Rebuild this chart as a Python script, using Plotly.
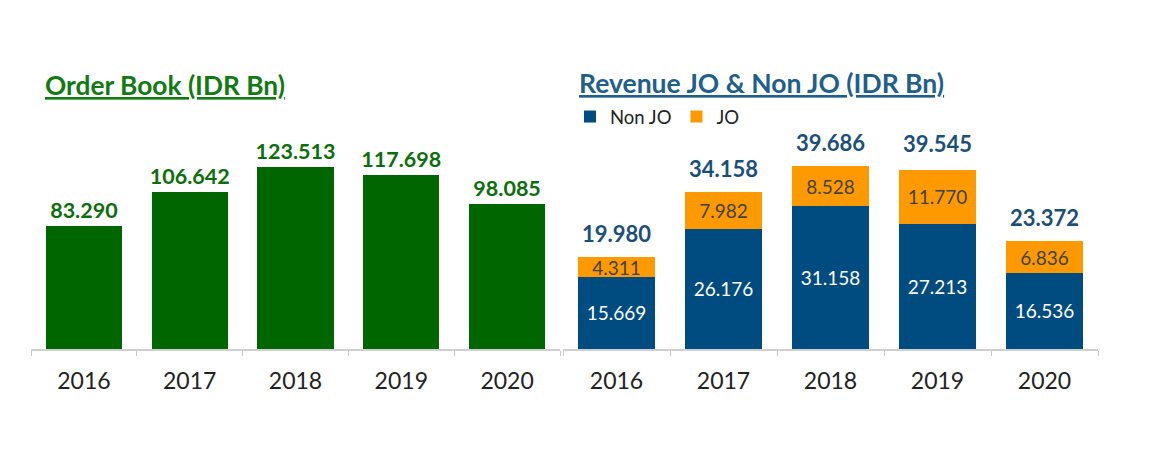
import plotly.graph_objects as go

years = ["2016", "2017", "2018", "2019", "2020"]
order_book = [83290, 106642, 123513, 117698, 98085]
non_jo = [15669, 26176, 31158, 27213, 16536]
jo = [4311, 7982, 8528, 11770, 6836]
rev_total = [19980, 34158, 39686, 39545, 23372]

W, H = 1167, 451
OFF = 8  # page body margin
FONT = "Lato"
GREEN = "#006600"
GREEN_TXT = "#0b6e0b"
BLUE = "#004c80"
BLUE_TXT = "#1b4f7a"
ORANGE = "#ff9900"


def fmt(v):
    return f"{v:,}".replace(",", ".")


def px_x(p):
    return (p - OFF) / W


def px_y(p):
    return (H - (p - OFF)) / H


base_px, top_px = 349, 60
left_scale = 1.475 / 1000   # px per unit
right_scale = 4.6 / 1000

fig = go.Figure()

fig.add_trace(go.Bar(
    x=years, y=order_book, xaxis="x", yaxis="y",
    marker=dict(color=GREEN, line=dict(width=0)),
    texttemplate="%{y:,.0f}", textposition="outside", constraintext="none",
    textfont=dict(family=FONT, size=21.5, color=GREEN_TXT, weight="bold"),
    cliponaxis=False, showlegend=False,
))

fig.add_trace(go.Bar(
    x=years, y=non_jo, xaxis="x2", yaxis="y2", name="Non JO",
    marker=dict(color=BLUE, line=dict(width=0)),
    texttemplate="%{y:,.0f}", textposition="inside", insidetextanchor="middle",
    constraintext="none",
    textfont=dict(family=FONT, size=19, color="white"),
))
fig.add_trace(go.Bar(
    x=years, y=jo, xaxis="x2", yaxis="y2", name="JO",
    marker=dict(color=ORANGE, line=dict(width=0)),
    texttemplate="%{y:,.0f}", textposition="inside", insidetextanchor="middle",
    constraintext="none",
    textfont=dict(family=FONT, size=19, color="#424242"),
))

annotations = []
for i, t in enumerate(rev_total):
    annotations.append(dict(
        x=i, y=t, xref="x2", yref="y2", text=fmt(t), showarrow=False,
        yanchor="bottom", yshift=8,
        font=dict(family=FONT, size=22, color=BLUE_TXT, weight="bold"),
    ))

annotations.append(dict(
    x=px_x(43), y=px_y(85), xref="paper", yref="paper", xanchor="left", yanchor="middle",
    text="<u><b>Order Book (IDR Bn)</b></u>", showarrow=False,
    font=dict(family=FONT, size=26.3, color="#127a12"),
))
annotations.append(dict(
    x=px_x(577), y=px_y(83), xref="paper", yref="paper", xanchor="left", yanchor="middle",
    text="<u><b>Revenue JO &amp; Non JO (IDR Bn)</b></u>", showarrow=False,
    font=dict(family=FONT, size=26.5, color="#1f5f8b"),
))

axis_common = dict(
    type="category", range=[-0.5, len(years) - 0.5], autorange=False,
    categoryorder="array", categoryarray=years,
    showline=True, linecolor="#d0d0d0", linewidth=1.5,
    ticks="outside", tickson="boundaries", ticklen=5, tickcolor="#c8c8c8",
    tickfont=dict(family=FONT, size=23, color="#222222"),
    ticklabelstandoff=11,
    showgrid=False, zeroline=False, fixedrange=True, automargin=False,
)

fig.update_layout(
    width=W, height=H, autosize=False,
    margin=dict(l=0, r=0, t=0, b=0, pad=0, autoexpand=False),
    paper_bgcolor="white", plot_bgcolor="white",
    separators=",.",
    barmode="stack", bargap=0.28,
    xaxis=dict(domain=[px_x(31), px_x(560)], anchor="y", **axis_common),
    yaxis=dict(domain=[px_y(base_px), px_y(top_px)], anchor="x",
               range=[0, (base_px - top_px) / left_scale], visible=False),
    xaxis2=dict(domain=[px_x(563), px_x(1098)], anchor="y2", **axis_common),
    yaxis2=dict(domain=[px_y(base_px), px_y(top_px)], anchor="x2",
                range=[0, (base_px - top_px) / right_scale], visible=False),
    legend=dict(orientation="h", x=px_x(570), y=px_y(117), xanchor="left", yanchor="middle",
                font=dict(family=FONT, size=18.5, color="#222222"),
                bgcolor="rgba(0,0,0,0)", traceorder="normal"),
    annotations=annotations,
    showlegend=True,
)

fig.write_html("out.html")
